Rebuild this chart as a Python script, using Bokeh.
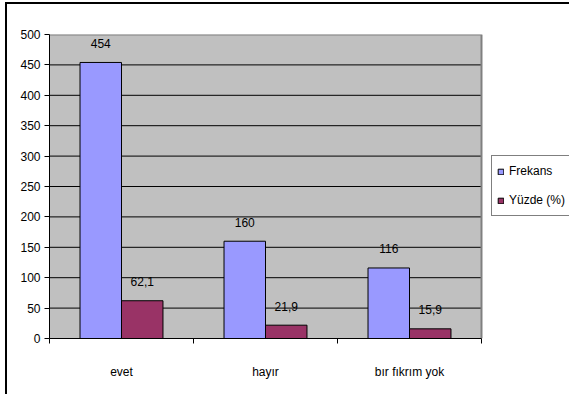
from bokeh.plotting import figure
from bokeh.models import (ColumnDataSource, FixedTicker, Legend, LegendItem,
                          Range1d)
from bokeh.core.properties import value
from bokeh.embed import file_html
from bokeh.resources import INLINE

# Survey answers and their counts / shares
categories = ["evet", "hayır", "bır fıkrım yok"]
frekans = [454, 160, 116]
yuzde = [62.1, 21.9, 15.9]
y_ticks = [0, 50, 100, 150, 200, 250, 300, 350, 400, 450, 500]

FONT = "Liberation Sans"
BLUE = "#9999FF"
PLUM = "#993366"
BAR_W = 0.288

n = len(categories)
y_max = y_ticks[-1]
centers = [i + 0.5 for i in range(n)]


def fmt(v):
    return str(v).replace(".", ",")


src_f = ColumnDataSource(dict(x=[c - BAR_W / 2 for c in centers], top=frekans,
                              label=[fmt(v) for v in frekans]))
src_y = ColumnDataSource(dict(x=[c + BAR_W / 2 for c in centers], top=yuzde,
                              label=[fmt(v) for v in yuzde]))

# outer chart-area frame lines painted as the page background behind the canvas
frame_bg = ("linear-gradient(#000, #000) 5px 2px / 2px 600px no-repeat, "
            "linear-gradient(#000, #000) 5px 2px / 800px 2px no-repeat, #fff")

# the frame runs to the right edge so the legend can sit beside the plot area;
# the grey plot area itself covers the three category slots only
p = figure(width=569, height=394, output_backend="svg", toolbar_location=None,
           x_range=Range1d(0, n * 520 / 432), y_range=Range1d(0, y_max),
           min_border_left=49, min_border_right=0, min_border_top=34,
           min_border_bottom=56, styles={"background": frame_bg})

p.background_fill_alpha = 0
p.border_fill_alpha = 0
p.outline_line_color = None

# plot area and its grid
p.quad(left=0, right=n, bottom=0, top=y_max, fill_color="#C0C0C0",
       line_color=None)
inner = [t for t in y_ticks if 0 < t < y_max]
p.segment(x0=[0] * len(inner), x1=[n] * len(inner), y0=inner, y1=inner,
          line_color="black", line_width=1)
p.line(x=[0, n, n], y=[y_max, y_max, 0], line_color="#808080", line_width=2)

r_f = p.vbar(x="x", top="top", width=BAR_W, source=src_f, fill_color=BLUE,
             line_color="black", line_width=1)
r_y = p.vbar(x="x", top="top", width=BAR_W, source=src_y, fill_color=PLUM,
             line_color="black", line_width=1)

for src in (src_f, src_y):
    p.text(x="x", y="top", text="label", source=src, text_align="center",
           text_baseline="middle", y_offset=-19, text_font_size="12px",
           text_font=value(FONT), text_color="black")

# y axis
p.yaxis.ticker = FixedTicker(ticks=y_ticks)
p.yaxis.major_tick_out = 5
p.yaxis.major_tick_in = 0
p.yaxis.minor_tick_line_color = None
p.yaxis.axis_line_color = "black"
p.yaxis.major_tick_line_color = "black"
p.yaxis.major_label_text_font = FONT
p.yaxis.major_label_text_font_size = "12px"
p.yaxis.major_label_text_color = "black"
p.yaxis.major_label_standoff = 4

# x axis: labels at category centres, ticks on the boundaries
p.xaxis.bounds = (0, n)
p.xaxis.ticker = FixedTicker(ticks=centers, minor_ticks=list(range(n + 1)))
p.xaxis.major_label_overrides = {c: name for c, name in zip(centers, categories)}
p.xaxis.major_tick_line_color = None
p.xaxis.minor_tick_out = 5
p.xaxis.minor_tick_in = 0
p.xaxis.minor_tick_line_color = "black"
p.xaxis.axis_line_color = "black"
p.xaxis.major_label_text_font = FONT
p.xaxis.major_label_text_font_size = "12px"
p.xaxis.major_label_text_color = "black"
p.xaxis.major_label_standoff = 20

p.xgrid.grid_line_color = None
p.ygrid.grid_line_color = None

legend = Legend(items=[LegendItem(label="Frekans", renderers=[r_f]),
                       LegendItem(label="Yüzde (%)", renderers=[r_y])],
                location=(442, 122), orientation="vertical",
                border_line_color="black", border_line_width=1,
                background_fill_color="white", background_fill_alpha=1,
                padding=5, margin=0, spacing=9,
                glyph_width=7, glyph_height=7, label_height=20,
                label_standoff=5, label_text_font=FONT,
                label_text_font_size="12px", label_text_color="black")
p.add_layout(legend, "center")

open("out.html", "w").write(file_html(p, INLINE))
